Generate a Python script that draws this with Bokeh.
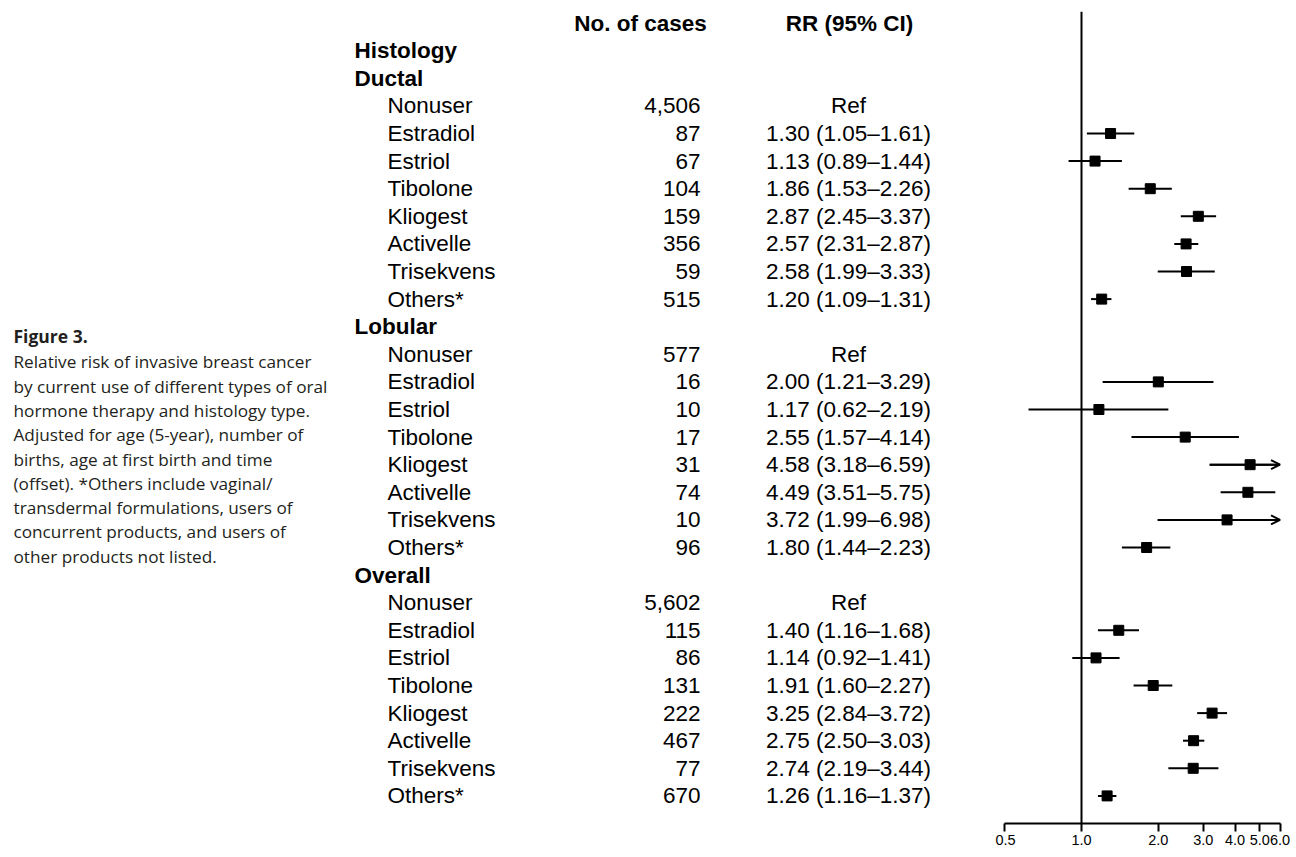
from bokeh.plotting import figure
from bokeh.models import Range1d, ColumnDataSource, FixedTicker, CustomJSTickFormatter, Span, Arrow, OpenHead
from bokeh.layouts import row
from bokeh.core.properties import value
from bokeh.embed import file_html
from bokeh.resources import INLINE

# ---------------- data ----------------
groups = ["Ductal", "Lobular", "Overall"]
products = ["Nonuser", "Estradiol", "Estriol", "Tibolone", "Kliogest", "Activelle", "Trisekvens", "Others*"]

cases_ductal = [4506, 87, 67, 104, 159, 356, 59, 515]
cases_lobular = [577, 16, 10, 17, 31, 74, 10, 96]
cases_overall = [5602, 115, 86, 131, 222, 467, 77, 670]

rr_ductal = [None, 1.30, 1.13, 1.86, 2.87, 2.57, 2.58, 1.20]
lo_ductal = [None, 1.05, 0.89, 1.53, 2.45, 2.31, 1.99, 1.09]
hi_ductal = [None, 1.61, 1.44, 2.26, 3.37, 2.87, 3.33, 1.31]

rr_lobular = [None, 2.00, 1.17, 2.55, 4.58, 4.49, 3.72, 1.80]
lo_lobular = [None, 1.21, 0.62, 1.57, 3.18, 3.51, 1.99, 1.44]
hi_lobular = [None, 3.29, 2.19, 4.14, 6.59, 5.75, 6.98, 2.23]

rr_overall = [None, 1.40, 1.14, 1.91, 3.25, 2.75, 2.74, 1.26]
lo_overall = [None, 1.16, 0.92, 1.60, 2.84, 2.50, 2.19, 1.16]
hi_overall = [None, 1.68, 1.41, 2.27, 3.72, 3.03, 3.44, 1.37]

x_ticks = [0.5, 1.0, 2.0, 3.0, 4.0, 5.0, 6.0]
x_max = 6.0

caption_title = "Figure 3."
caption_lines = [
    "Relative risk of invasive breast cancer",
    "by current use of different types of oral",
    "hormone therapy and histology type.",
    "Adjusted for age (5-year), number of",
    "births, age at first birth and time",
    "(offset). *Others include vaginal/",
    "transdermal formulations, users of",
    "concurrent products, and users of",
    "other products not listed.",
]

col_headers = ["No. of cases", "RR (95% CI)"]

cases = [cases_ductal, cases_lobular, cases_overall]
rrs = [rr_ductal, rr_lobular, rr_overall]
los = [lo_ductal, lo_lobular, lo_overall]
his = [hi_ductal, hi_lobular, hi_overall]

# ---------------- layout constants ----------------
ROW0 = 50.2      # page px of row 0 centre
ROWH = 27.6      # px per row
TOP, BOTTOM = 11, 823
BORDER_B = 33
H = BOTTOM + BORDER_B
FONT = value("Liberation Sans")
FS = "22.5px"
TXT_DY = 0       # empirical baseline correction for table text
CAP_DY = -8      # empirical baseline correction for caption text

yr = Range1d(start=(BOTTOM - ROW0) / ROWH, end=(TOP - ROW0) / ROWH)

X_SPLIT = 995
WA = X_SPLIT
WB = 1290 - X_SPLIT

# ---------------- build rows ----------------
head_y, head_t = [0], ["Histology"]
item_y, item_t, case_t, rr_t = [], [], [], []
pt_y, pt_rr, pt_lo, pt_hi = [], [], [], []
r = 1
for gi, g in enumerate(groups):
    head_y.append(r); head_t.append(g)
    r += 1
    for pi, prod in enumerate(products):
        item_y.append(r); item_t.append(prod)
        case_t.append(f"{cases[gi][pi]:,}")
        if rrs[gi][pi] is None:
            rr_t.append("Ref")
        else:
            rr_t.append(f"{rrs[gi][pi]:.2f} ({los[gi][pi]:.2f}\u2013{his[gi][pi]:.2f})")
            pt_y.append(r); pt_rr.append(rrs[gi][pi]); pt_lo.append(los[gi][pi]); pt_hi.append(his[gi][pi])
        r += 1

# ---------------- left figure: table + caption ----------------
pa = figure(width=WA, height=H, x_range=Range1d(0, X_SPLIT), y_range=yr,
            output_backend="svg", toolbar_location=None,
            x_axis_location=None, y_axis_location=None,
            min_border_left=0, min_border_right=0, min_border_top=TOP, min_border_bottom=BORDER_B)
pa.xgrid.visible = False
pa.ygrid.visible = False
pa.outline_line_color = None
pa.extra_y_ranges = {"px": Range1d(start=BOTTOM, end=TOP)}

common = dict(text_font=FONT, text_font_size=FS, text_baseline="alphabetic",
              y_offset=TXT_DY, text_color="black")
pa.text(x=[640, 849], y=[-1, -1], text=col_headers, text_font_style="bold",
        text_align="center", **common)
pa.text(x=[354] * len(head_y), y=head_y, text=head_t, text_font_style="bold",
        text_align="left", **common)
pa.text(x=[387] * len(item_y), y=item_y, text=item_t, text_align="left", **common)
pa.text(x=[700] * len(item_y), y=item_y, text=case_t, text_align="right", **common)
pa.text(x=[848] * len(item_y), y=item_y, text=rr_t, text_align="center", **common)

# caption
CAP_FONT = value("Open Sans")
pa.text(x=[13], y=[343], text=[caption_title], text_font=CAP_FONT, text_font_size="17.5px",
        text_font_style="bold", text_baseline="alphabetic", y_offset=CAP_DY,
        text_color="#231f20", y_range_name="px")
cap_y = [369.3 + 24.3 * i for i in range(len(caption_lines))]
pa.text(x=[13] * len(caption_lines), y=cap_y, text=caption_lines, text_font=CAP_FONT,
        text_font_size="17.2px", text_baseline="alphabetic", y_offset=CAP_DY,
        text_color="#231f20", y_range_name="px")

# ---------------- right figure: forest plot ----------------
PX_PER_DOUBLING = 76.8
X_ONE = 1081
xl = 2 ** ((X_SPLIT - X_ONE) / PX_PER_DOUBLING)
xr = 2 ** ((1290 - X_ONE) / PX_PER_DOUBLING)

pb = figure(width=WB, height=H, x_axis_type="log", x_range=Range1d(xl, xr), y_range=yr,
            output_backend="svg", toolbar_location=None, y_axis_location=None,
            min_border_left=0, min_border_right=0, min_border_top=TOP, min_border_bottom=BORDER_B)
pb.xgrid.visible = False
pb.ygrid.visible = False
pb.outline_line_color = None

pb.add_layout(Span(location=1.0, dimension="height", line_color="black", line_width=2))

src = ColumnDataSource(dict(y=pt_y, rr=pt_rr, lo=pt_lo, hi=[min(h, x_max) for h in pt_hi]))
pb.segment(x0="lo", x1="hi", y0="y", y1="y", source=src, line_color="black", line_width=2)
pb.scatter(x="rr", y="y", source=src, marker="square", size=10, color="black")

arr_y = [y for y, h in zip(pt_y, pt_hi) if h > x_max]
arr_lo = [l for l, h in zip(pt_lo, pt_hi) if h > x_max]
asrc = ColumnDataSource(dict(x0=arr_lo, x1=[x_max] * len(arr_y), y=arr_y))
pb.add_layout(Arrow(x_start="x0", x_end="x1", y_start="y", y_end="y", source=asrc,
                    line_color="black", line_width=2,
                    end=OpenHead(size=9, line_width=2, line_color="black")))

ax = pb.xaxis[0]
ax.ticker = FixedTicker(ticks=x_ticks)
ax.formatter = CustomJSTickFormatter(code="return tick.toFixed(1);")
ax.bounds = (x_ticks[0], x_ticks[-1])
ax.axis_line_width = 2
ax.axis_line_color = "black"
ax.major_tick_line_width = 2
ax.major_tick_line_color = "black"
ax.major_tick_out = 8
ax.major_tick_in = 0
ax.minor_tick_line_color = None
ax.major_label_text_font = "Liberation Sans"
ax.major_label_text_font_size = "14.5px"
ax.major_label_text_color = "black"
ax.major_label_standoff = 3

layout = row(pa, pb)
open("out.html", "w").write(file_html(layout, INLINE))
